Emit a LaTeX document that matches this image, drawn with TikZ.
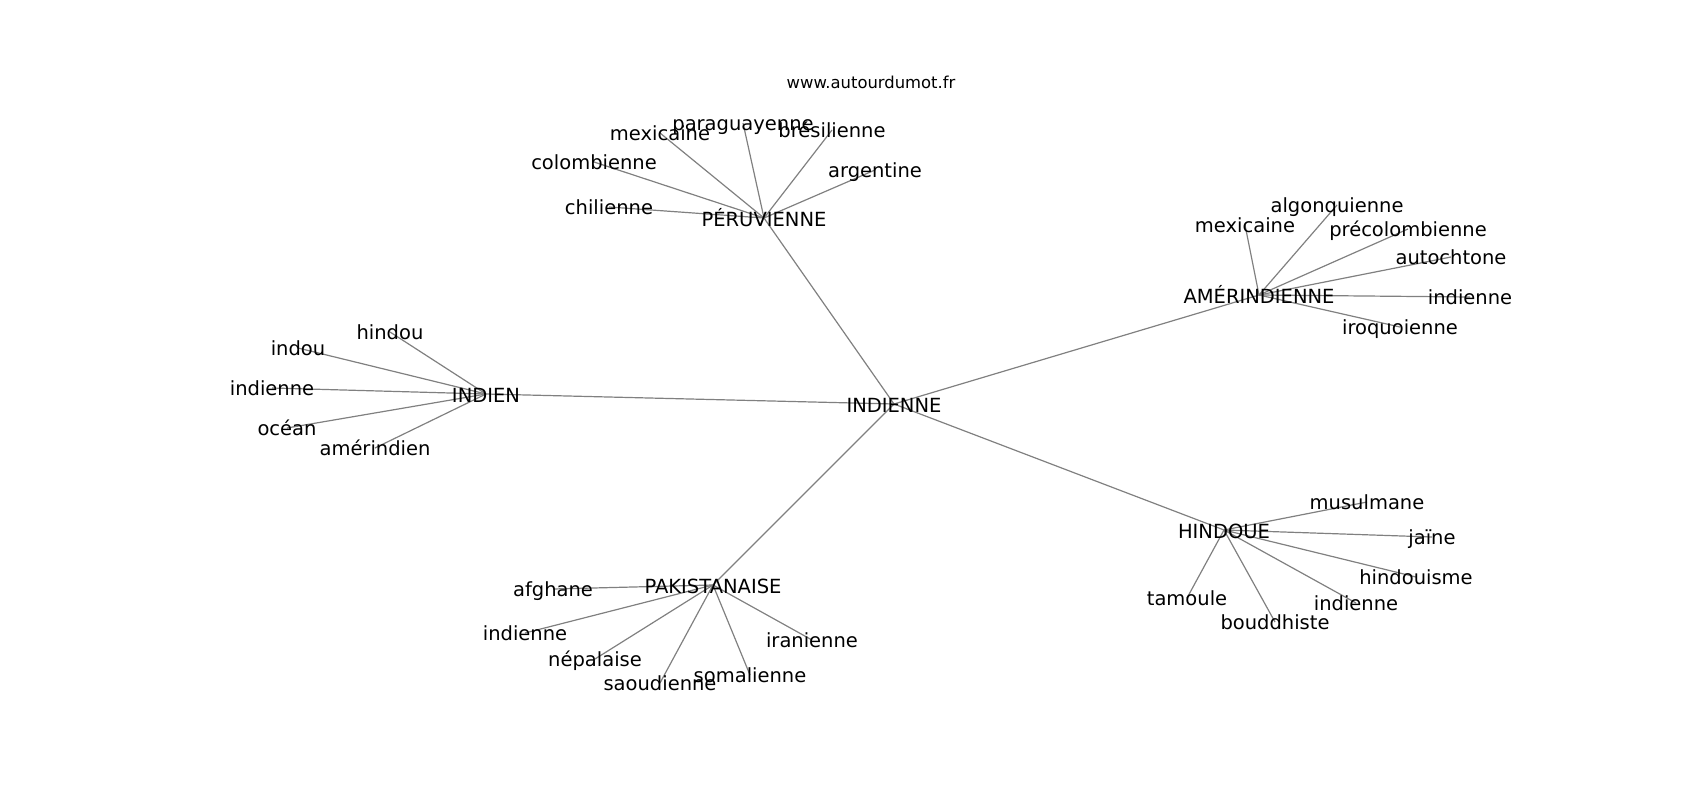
\documentclass[tikz,border=0pt]{standalone}
\usepackage{fontspec}
\setmainfont{DejaVu Sans}
\usetikzlibrary{backgrounds}
\begin{document}
\begin{tikzpicture}[x=1pt,y=-1pt,
  lbl/.style={font=\fontsize{19.5}{20}\selectfont, inner sep=0pt, text height=18pt, text depth=3pt, anchor=center},
  hub/.style={lbl, text height=16pt, text depth=0pt},
  ttl/.style={font=\fontsize{16.4}{17}\selectfont, inner sep=0pt, text height=16pt, text depth=3pt, anchor=center},
  edge/.style={draw=black!50, line width=1.2pt}]
\useasboundingbox (0,0) rectangle (1700,800);
\node[ttl] (title) at (871,82) {www.autourdumot.fr};
% hubs
\node[hub] (ind) at (894,404) {INDIENNE};
\node[hub] (per) at (764,218) {PÉRUVIENNE};
\node[hub] (ame) at (1259,295) {AMÉRINDIENNE};
\node[hub] (indn) at (486,394) {INDIEN};
\node[hub] (pak) at (713,585) {PAKISTANAISE};
\node[hub] (hin) at (1224,530) {HINDOUE};
% peruvienne
\node[lbl] (p1) at (743,123) {paraguayenne};
\node[lbl] (p2) at (660,133) {mexicaine};
\node[lbl] (p3) at (832,130) {brésilienne};
\node[lbl] (p4) at (594,162) {colombienne};
\node[lbl] (p5) at (875,170) {argentine};
\node[lbl] (p6) at (609,207) {chilienne};
% amerindienne
\node[lbl] (a1) at (1245,225) {mexicaine};
\node[lbl] (a2) at (1337,205) {algonquienne};
\node[lbl] (a3) at (1408,229) {précolombienne};
\node[lbl] (a4) at (1451,257) {autochtone};
\node[lbl] (a5) at (1470,297) {indienne};
\node[lbl] (a6) at (1400,327) {iroquoienne};
% indien
\node[lbl] (i1) at (390,332) {hindou};
\node[lbl] (i2) at (298,348) {indou};
\node[lbl] (i3) at (272,388) {indienne};
\node[lbl] (i4) at (287,428) {océan};
\node[lbl] (i5) at (375,448) {amérindien};
% pakistanaise
\node[lbl] (k1) at (553,589) {afghane};
\node[lbl] (k2) at (525,633) {indienne};
\node[lbl] (k3) at (595,659) {népalaise};
\node[lbl] (k4) at (660,683) {saoudienne};
\node[lbl] (k5) at (750,675) {somalienne};
\node[lbl] (k6) at (812,640) {iranienne};
% hindoue
\node[lbl] (h1) at (1367,502) {musulmane};
\node[lbl] (h2) at (1432,537) {jaïne};
\node[lbl] (h3) at (1416,577) {hindouisme};
\node[lbl] (h4) at (1356,603) {indienne};
\node[lbl] (h5) at (1275,622) {bouddhiste};
\node[lbl] (h6) at (1187,598) {tamoule};
\begin{scope}[on background layer]
\foreach \h in {per,ame,indn,pak,hin} \draw[edge] (ind.center) -- (\h.center);
\foreach \l in {p1,p2,p3,p4,p5,p6} \draw[edge] (per.center) -- (\l.center);
\foreach \l in {a1,a2,a3,a4,a5,a6} \draw[edge] (ame.center) -- (\l.center);
\foreach \l in {i1,i2,i3,i4,i5} \draw[edge] (indn.center) -- (\l.center);
\foreach \l in {k1,k2,k3,k4,k5,k6} \draw[edge] (pak.center) -- (\l.center);
\foreach \l in {h1,h2,h3,h4,h5,h6} \draw[edge] (hin.center) -- (\l.center);
\end{scope}
\end{tikzpicture}
\end{document}
